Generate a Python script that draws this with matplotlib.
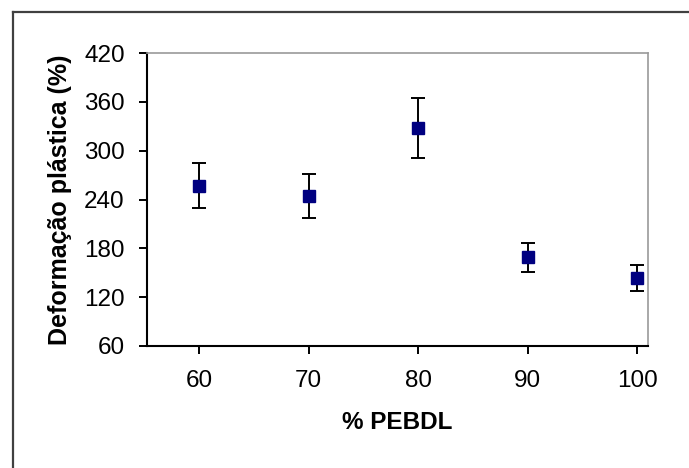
import numpy as np
import matplotlib
matplotlib.use("Agg")
import matplotlib.pyplot as plt
from matplotlib.lines import Line2D

pebdl = [60, 70, 80, 90, 100]
deformacao = [257, 244, 328, 169, 144]
erro = [28, 27, 37, 18, 16]
yticks = [60, 120, 180, 240, 300, 360, 420]
xticks = [60, 70, 80, 90, 100]

plt.rcParams["font.family"] = ["Liberation Sans", "DejaVu Sans"]

fig = plt.figure(figsize=(6.89, 4.68), dpi=100)
ax = fig.add_axes([147 / 689, 1 - 346 / 468, (648 - 147) / 689, (346 - 53) / 468])

ax.errorbar(pebdl, deformacao, yerr=erro, fmt="s", color="#000080",
            markersize=8, ecolor="black", elinewidth=1.4,
            capsize=4.7, capthick=1.4, zorder=3)

ax.set_xlim(55.25, 101)
ax.set_ylim(60, 420)
ax.set_xticks(xticks)
ax.set_yticks(yticks)
ax.tick_params(direction="out", length=6, width=1.4, labelsize=17.5,
               colors="black")
ax.tick_params(axis="y", pad=10)
ax.tick_params(axis="x", pad=11)

for s in ["left", "bottom"]:
    ax.spines[s].set_color("black")
    ax.spines[s].set_linewidth(1.5)
for s in ["right", "top"]:
    ax.spines[s].set_color("#9a9a9a")
    ax.spines[s].set_linewidth(1.2)

ax.set_xlabel("% PEBDL", fontsize=17.5, fontweight="bold", labelpad=14)
ax.set_ylabel("Deformação plástica (%)", fontsize=18, fontweight="bold",
              labelpad=9)

# frame of the chart area (cropped)
fig.add_artist(Line2D([13 / 689, 1], [1 - 12 / 468, 1 - 12 / 468],
                      transform=fig.transFigure, color="#404040", lw=1.6))
fig.add_artist(Line2D([13 / 689, 13 / 689], [0, 1 - 12 / 468],
                      transform=fig.transFigure, color="#404040", lw=1.6))

fig.savefig("out.png", dpi=100)
